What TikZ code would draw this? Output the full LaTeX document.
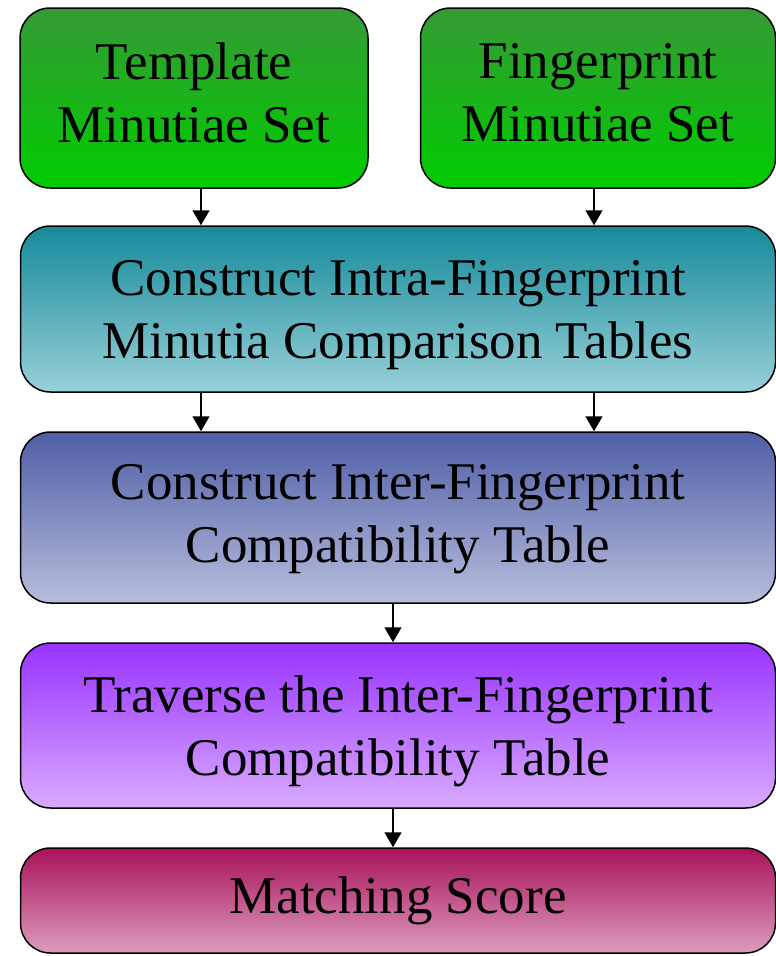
\documentclass[tikz,border=0pt]{standalone}
\usepackage{fontspec}
\setmainfont{Liberation Serif}
\usepackage{tikz}
\usetikzlibrary{arrows.meta,positioning,shadings}
\definecolor{leaftop}{HTML}{359A35}
\definecolor{leafbot}{HTML}{00CC00}
\definecolor{tealtop}{HTML}{168A9A}
\definecolor{tealbot}{HTML}{98D0D8}
\definecolor{slatetop}{HTML}{4F5EA6}
\definecolor{slatebot}{HTML}{B8BDDC}
\definecolor{violettop}{HTML}{9933FF}
\definecolor{violetbot}{HTML}{D8AAFF}
\definecolor{berrytop}{HTML}{A8125A}
\definecolor{berrybot}{HTML}{DC9CBE}
\tikzset{
  stagebox/.style n args={2}{
    rectangle, rounded corners=30pt, draw=black, line width=1.5pt,
    top color=#1, bottom color=#2,
    font=\fontsize{53}{63}\selectfont, align=center,
    inner sep=0pt
  },
  flowarrow/.style={
    -{Triangle[length=15pt,width=17pt]}, line width=1.5pt
  },
}
\begin{document}
\begin{tikzpicture}[x=1pt,y=-1pt]
  \useasboundingbox (0,0) rectangle (776,956);

  % Two minutiae sets at top
  \node[stagebox={leaftop}{leafbot}, minimum width=348pt, minimum height=180pt, text depth=11pt] (tmpl) at (194,98) {Template\\Minutiae Set};
  \node[stagebox={leaftop}{leafbot}, minimum width=355pt, minimum height=180pt, text depth=11pt] (fing) at (598,98) {Fingerprint\\Minutiae Set};

  % Processing stages
  \node[stagebox={tealtop}{tealbot}, minimum width=755pt, minimum height=166pt, text depth=0pt] (intra) at (398,309) {Construct Intra-Fingerprint\\Minutia Comparison Tables};
  \node[stagebox={slatetop}{slatebot}, minimum width=755pt, minimum height=171pt, text depth=8pt] (inter) at (398,517.5) {Construct Inter-Fingerprint\\Compatibility Table};
  \node[stagebox={violettop}{violetbot}, minimum width=755pt, minimum height=165pt, text depth=0pt] (trav) at (398,725.5) {Traverse the Inter-Fingerprint\\Compatibility Table};
  \node[stagebox={berrytop}{berrybot}, minimum width=755pt, minimum height=105pt] (score) at (398,900.5) {Matching Score};

  % Arrow columns
  \coordinate (lcol) at (201,0);
  \coordinate (rcol) at (594,0);
  \coordinate (mcol) at (393,0);

  \draw[flowarrow] (tmpl.south -| lcol) -- (intra.north -| lcol);
  \draw[flowarrow] (fing.south -| rcol) -- (intra.north -| rcol);
  \draw[flowarrow] (intra.south -| lcol) -- (inter.north -| lcol);
  \draw[flowarrow] (intra.south -| rcol) -- (inter.north -| rcol);
  \draw[flowarrow] (inter.south -| mcol) -- (trav.north -| mcol);
  \draw[flowarrow] (trav.south -| mcol) -- (score.north -| mcol);
\end{tikzpicture}
\end{document}
